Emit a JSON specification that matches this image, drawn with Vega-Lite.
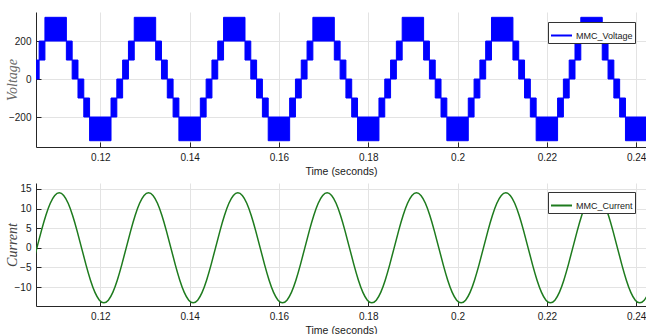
{
  "$schema": "https://vega.github.io/schema/vega-lite/v6.json",
  "padding": {"left": 5, "top": 12, "right": 0, "bottom": 0},
  "background": "white",
  "spacing": 36,
  "bounds": "flush",
  "config": {
    "view": {"stroke": null},
    "font": "Liberation Sans",
    "axis": {
      "labelFont": "Liberation Sans",
      "labelFontSize": 10,
      "labelColor": "#1a1a1a",
      "domainColor": "#262626",
      "tickColor": "#262626",
      "gridColor": "#e3e3e3",
      "gridWidth": 1,
      "titleFont": "Liberation Sans",
      "titleFontWeight": "normal",
      "titleColor": "#1a1a1a"
    },
    "legend": {
      "orient": "none",
      "fillColor": "white",
      "strokeColor": "#333333",
      "padding": 2,
      "labelFont": "Liberation Sans",
      "labelFontSize": 9,
      "labelColor": "#222222",
      "labelOffset": 3,
      "symbolType": "stroke",
      "symbolSize": 440,
      "symbolStrokeWidth": 2
    }
  },
  "datasets": {
    "voltage": [
      {"t0":0.105,"t1":0.1063,"lo":0,"hi":100},
      {"t0":0.1063,"t1":0.1076,"lo":100,"hi":200},
      {"t0":0.1076,"t1":0.1124,"lo":200,"hi":325},
      {"t0":0.1124,"t1":0.1137,"lo":100,"hi":200},
      {"t0":0.1137,"t1":0.115,"lo":0,"hi":100},
      {"t0":0.115,"t1":0.1163,"lo":-100,"hi":0},
      {"t0":0.1163,"t1":0.1176,"lo":-200,"hi":-100},
      {"t0":0.1176,"t1":0.1224,"lo":-325,"hi":-200},
      {"t0":0.1224,"t1":0.1237,"lo":-200,"hi":-100},
      {"t0":0.1237,"t1":0.125,"lo":-100,"hi":0},
      {"t0":0.125,"t1":0.1263,"lo":0,"hi":100},
      {"t0":0.1263,"t1":0.1276,"lo":100,"hi":200},
      {"t0":0.1276,"t1":0.1324,"lo":200,"hi":325},
      {"t0":0.1324,"t1":0.1337,"lo":100,"hi":200},
      {"t0":0.1337,"t1":0.135,"lo":0,"hi":100},
      {"t0":0.135,"t1":0.1363,"lo":-100,"hi":0},
      {"t0":0.1363,"t1":0.1376,"lo":-200,"hi":-100},
      {"t0":0.1376,"t1":0.1424,"lo":-325,"hi":-200},
      {"t0":0.1424,"t1":0.1437,"lo":-200,"hi":-100},
      {"t0":0.1437,"t1":0.145,"lo":-100,"hi":0},
      {"t0":0.145,"t1":0.1463,"lo":0,"hi":100},
      {"t0":0.1463,"t1":0.1476,"lo":100,"hi":200},
      {"t0":0.1476,"t1":0.1524,"lo":200,"hi":325},
      {"t0":0.1524,"t1":0.1537,"lo":100,"hi":200},
      {"t0":0.1537,"t1":0.155,"lo":0,"hi":100},
      {"t0":0.155,"t1":0.1563,"lo":-100,"hi":0},
      {"t0":0.1563,"t1":0.1576,"lo":-200,"hi":-100},
      {"t0":0.1576,"t1":0.1624,"lo":-325,"hi":-200},
      {"t0":0.1624,"t1":0.1637,"lo":-200,"hi":-100},
      {"t0":0.1637,"t1":0.165,"lo":-100,"hi":0},
      {"t0":0.165,"t1":0.1663,"lo":0,"hi":100},
      {"t0":0.1663,"t1":0.1676,"lo":100,"hi":200},
      {"t0":0.1676,"t1":0.1724,"lo":200,"hi":325},
      {"t0":0.1724,"t1":0.1737,"lo":100,"hi":200},
      {"t0":0.1737,"t1":0.175,"lo":0,"hi":100},
      {"t0":0.175,"t1":0.1763,"lo":-100,"hi":0},
      {"t0":0.1763,"t1":0.1776,"lo":-200,"hi":-100},
      {"t0":0.1776,"t1":0.1824,"lo":-325,"hi":-200},
      {"t0":0.1824,"t1":0.1837,"lo":-200,"hi":-100},
      {"t0":0.1837,"t1":0.185,"lo":-100,"hi":0},
      {"t0":0.185,"t1":0.1863,"lo":0,"hi":100},
      {"t0":0.1863,"t1":0.1876,"lo":100,"hi":200},
      {"t0":0.1876,"t1":0.1924,"lo":200,"hi":325},
      {"t0":0.1924,"t1":0.1937,"lo":100,"hi":200},
      {"t0":0.1937,"t1":0.195,"lo":0,"hi":100},
      {"t0":0.195,"t1":0.1963,"lo":-100,"hi":0},
      {"t0":0.1963,"t1":0.1976,"lo":-200,"hi":-100},
      {"t0":0.1976,"t1":0.2024,"lo":-325,"hi":-200},
      {"t0":0.2024,"t1":0.2037,"lo":-200,"hi":-100},
      {"t0":0.2037,"t1":0.205,"lo":-100,"hi":0},
      {"t0":0.205,"t1":0.2063,"lo":0,"hi":100},
      {"t0":0.2063,"t1":0.2076,"lo":100,"hi":200},
      {"t0":0.2076,"t1":0.2124,"lo":200,"hi":325},
      {"t0":0.2124,"t1":0.2137,"lo":100,"hi":200},
      {"t0":0.2137,"t1":0.215,"lo":0,"hi":100},
      {"t0":0.215,"t1":0.2163,"lo":-100,"hi":0},
      {"t0":0.2163,"t1":0.2176,"lo":-200,"hi":-100},
      {"t0":0.2176,"t1":0.2224,"lo":-325,"hi":-200},
      {"t0":0.2224,"t1":0.2237,"lo":-200,"hi":-100},
      {"t0":0.2237,"t1":0.225,"lo":-100,"hi":0},
      {"t0":0.225,"t1":0.2263,"lo":0,"hi":100},
      {"t0":0.2263,"t1":0.2276,"lo":100,"hi":200},
      {"t0":0.2276,"t1":0.2324,"lo":200,"hi":325},
      {"t0":0.2324,"t1":0.2337,"lo":100,"hi":200},
      {"t0":0.2337,"t1":0.235,"lo":0,"hi":100},
      {"t0":0.235,"t1":0.2363,"lo":-100,"hi":0},
      {"t0":0.2363,"t1":0.2376,"lo":-200,"hi":-100},
      {"t0":0.2376,"t1":0.2424,"lo":-325,"hi":-200}
    ],
    "current": [
      {"t":0.1048,"i":-4.33},
      {"t":0.1058,"i":0},{"t":0.1068,"i":4.33},{"t":0.1078,"i":8.23},{"t":0.1088,"i":11.33},{"t":0.1098,"i":13.31},
      {"t":0.1108,"i":14},{"t":0.1118,"i":13.31},{"t":0.1128,"i":11.33},{"t":0.1138,"i":8.23},{"t":0.1148,"i":4.33},
      {"t":0.1158,"i":0},{"t":0.1168,"i":-4.33},{"t":0.1178,"i":-8.23},{"t":0.1188,"i":-11.33},{"t":0.1198,"i":-13.31},
      {"t":0.1208,"i":-14},{"t":0.1218,"i":-13.31},{"t":0.1228,"i":-11.33},{"t":0.1238,"i":-8.23},{"t":0.1248,"i":-4.33},
      {"t":0.1258,"i":0},{"t":0.1268,"i":4.33},{"t":0.1278,"i":8.23},{"t":0.1288,"i":11.33},{"t":0.1298,"i":13.31},
      {"t":0.1308,"i":14},{"t":0.1318,"i":13.31},{"t":0.1328,"i":11.33},{"t":0.1338,"i":8.23},{"t":0.1348,"i":4.33},
      {"t":0.1358,"i":0},{"t":0.1368,"i":-4.33},{"t":0.1378,"i":-8.23},{"t":0.1388,"i":-11.33},{"t":0.1398,"i":-13.31},
      {"t":0.1408,"i":-14},{"t":0.1418,"i":-13.31},{"t":0.1428,"i":-11.33},{"t":0.1438,"i":-8.23},{"t":0.1448,"i":-4.33},
      {"t":0.1458,"i":0},{"t":0.1468,"i":4.33},{"t":0.1478,"i":8.23},{"t":0.1488,"i":11.33},{"t":0.1498,"i":13.31},
      {"t":0.1508,"i":14},{"t":0.1518,"i":13.31},{"t":0.1528,"i":11.33},{"t":0.1538,"i":8.23},{"t":0.1548,"i":4.33},
      {"t":0.1558,"i":0},{"t":0.1568,"i":-4.33},{"t":0.1578,"i":-8.23},{"t":0.1588,"i":-11.33},{"t":0.1598,"i":-13.31},
      {"t":0.1608,"i":-14},{"t":0.1618,"i":-13.31},{"t":0.1628,"i":-11.33},{"t":0.1638,"i":-8.23},{"t":0.1648,"i":-4.33},
      {"t":0.1658,"i":0},{"t":0.1668,"i":4.33},{"t":0.1678,"i":8.23},{"t":0.1688,"i":11.33},{"t":0.1698,"i":13.31},
      {"t":0.1708,"i":14},{"t":0.1718,"i":13.31},{"t":0.1728,"i":11.33},{"t":0.1738,"i":8.23},{"t":0.1748,"i":4.33},
      {"t":0.1758,"i":0},{"t":0.1768,"i":-4.33},{"t":0.1778,"i":-8.23},{"t":0.1788,"i":-11.33},{"t":0.1798,"i":-13.31},
      {"t":0.1808,"i":-14},{"t":0.1818,"i":-13.31},{"t":0.1828,"i":-11.33},{"t":0.1838,"i":-8.23},{"t":0.1848,"i":-4.33},
      {"t":0.1858,"i":0},{"t":0.1868,"i":4.33},{"t":0.1878,"i":8.23},{"t":0.1888,"i":11.33},{"t":0.1898,"i":13.31},
      {"t":0.1908,"i":14},{"t":0.1918,"i":13.31},{"t":0.1928,"i":11.33},{"t":0.1938,"i":8.23},{"t":0.1948,"i":4.33},
      {"t":0.1958,"i":0},{"t":0.1968,"i":-4.33},{"t":0.1978,"i":-8.23},{"t":0.1988,"i":-11.33},{"t":0.1998,"i":-13.31},
      {"t":0.2008,"i":-14},{"t":0.2018,"i":-13.31},{"t":0.2028,"i":-11.33},{"t":0.2038,"i":-8.23},{"t":0.2048,"i":-4.33},
      {"t":0.2058,"i":0},{"t":0.2068,"i":4.33},{"t":0.2078,"i":8.23},{"t":0.2088,"i":11.33},{"t":0.2098,"i":13.31},
      {"t":0.2108,"i":14},{"t":0.2118,"i":13.31},{"t":0.2128,"i":11.33},{"t":0.2138,"i":8.23},{"t":0.2148,"i":4.33},
      {"t":0.2158,"i":0},{"t":0.2168,"i":-4.33},{"t":0.2178,"i":-8.23},{"t":0.2188,"i":-11.33},{"t":0.2198,"i":-13.31},
      {"t":0.2208,"i":-14},{"t":0.2218,"i":-13.31},{"t":0.2228,"i":-11.33},{"t":0.2238,"i":-8.23},{"t":0.2248,"i":-4.33},
      {"t":0.2258,"i":0},{"t":0.2268,"i":4.33},{"t":0.2278,"i":8.23},{"t":0.2288,"i":11.33},{"t":0.2298,"i":13.31},
      {"t":0.2308,"i":14},{"t":0.2318,"i":13.31},{"t":0.2328,"i":11.33},{"t":0.2338,"i":8.23},{"t":0.2348,"i":4.33},
      {"t":0.2358,"i":0},{"t":0.2368,"i":-4.33},{"t":0.2378,"i":-8.23},{"t":0.2388,"i":-11.33},{"t":0.2398,"i":-13.31},
      {"t":0.2408,"i":-14},{"t":0.2418,"i":-13.31},{"t":0.2428,"i":-11.33},{"t":0.2438,"i":-8.23}
    ]
  },
  "resolve": {"scale": {"stroke": "independent", "x": "independent", "y": "independent"}, "legend": {"stroke": "independent"}},
  "vconcat": [
    {
      "width": 610,
      "height": 135,
      "data": {"name": "voltage"},
      "mark": {"type": "rect", "fill": "#0000ff", "strokeWidth": 1, "clip": true},
      "encoding": {
        "x": {
          "field": "t0", "type": "quantitative",
          "scale": {"domain": [0.1056, 0.2422], "nice": false, "zero": false},
          "axis": {
            "values": [0.12, 0.14, 0.16, 0.18, 0.2, 0.22, 0.24],
            "format": ".2~f",
            "title": "Time (seconds)",
            "titleFontSize": 10.5,
            "titlePadding": 4,
            "labelPadding": 10,
            "tickSize": -5,
            "grid": true
          }
        },
        "x2": {"field": "t1"},
        "y": {
          "field": "lo", "type": "quantitative",
          "scale": {"domain": [-358, 353], "nice": false, "zero": false},
          "axis": {
            "values": [-200, 0, 200],
            "title": "Voltage",
            "titleFont": "Liberation Serif",
            "titleFontStyle": "italic",
            "titleFontSize": 14,
            "titleColor": "#6a6a6a",
            "titleX": -24,
            "titleBaseline": "middle",
            "labelPadding": 10,
            "tickSize": -5,
            "grid": true
          }
        },
        "y2": {"field": "hi"},
        "stroke": {
          "datum": "MMC_Voltage",
          "scale": {"range": ["#0000ff"]},
          "legend": {"title": null, "legendX": 512, "legendY": 10, "symbolStrokeColor": "#3a3aff"}
        }
      }
    },
    {
      "width": 610,
      "height": 123,
      "data": {"name": "current"},
      "mark": {"type": "line", "strokeWidth": 1.5, "interpolate": "natural", "clip": true},
      "encoding": {
        "x": {
          "field": "t", "type": "quantitative",
          "scale": {"domain": [0.1056, 0.2422], "nice": false, "zero": false},
          "axis": {
            "values": [0.12, 0.14, 0.16, 0.18, 0.2, 0.22, 0.24],
            "format": ".2~f",
            "title": "Time (seconds)",
            "titleFontSize": 10.5,
            "titlePadding": 4,
            "labelPadding": 10,
            "tickSize": -5,
            "grid": true
          }
        },
        "y": {
          "field": "i", "type": "quantitative",
          "scale": {"domain": [-14.8, 16.5], "nice": false, "zero": false},
          "axis": {
            "values": [-10, -5, 0, 5, 10, 15],
            "title": "Current",
            "titleFont": "Liberation Serif",
            "titleFontStyle": "italic",
            "titleFontSize": 14,
            "titleColor": "#444444",
            "titleX": -24,
            "titleBaseline": "middle",
            "labelPadding": 10,
            "tickSize": -5,
            "grid": true
          }
        },
        "stroke": {
          "datum": "MMC_Current",
          "scale": {"range": ["#1e7b1e"]},
          "legend": {"title": null, "legendX": 512, "legendY": 9, "symbolStrokeColor": "#2a8a2a"}
        }
      }
    }
  ]
}
